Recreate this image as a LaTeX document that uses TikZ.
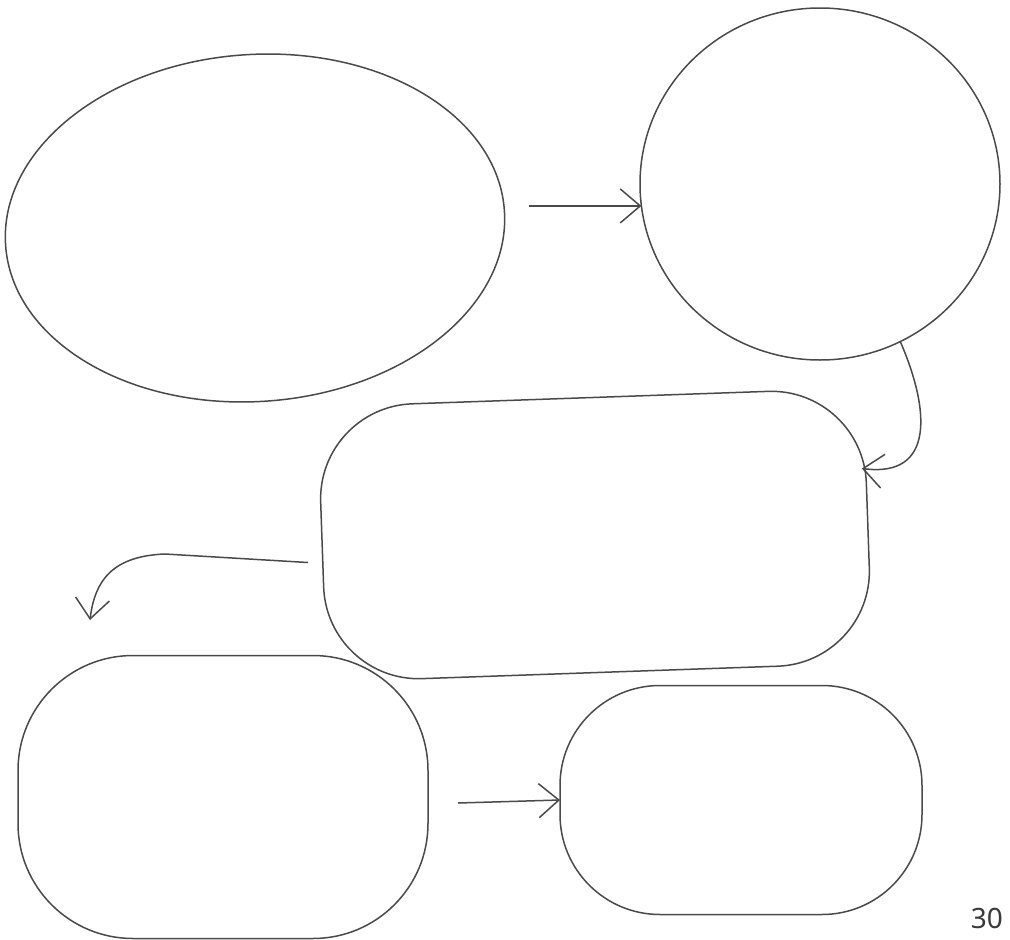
\documentclass[tikz,border=0pt]{standalone}
\usepackage{fontspec}
\setsansfont{Noto Sans}
\usetikzlibrary{arrows.meta,calc,positioning,shapes.geometric}
\definecolor{pencil}{HTML}{4A4A4A}
\definecolor{pagegray}{HTML}{3A3A3A}

\begin{document}
\begin{tikzpicture}[
    x=1pt,y=1pt,
    blob/.style={draw=pencil,line width=1.5pt,inner sep=0pt,outer sep=0pt},
    oval/.style={blob,ellipse},
    pad/.style={blob,rectangle},
    flow/.style={-{Straight Barb[length=20pt,width=34pt,line width=1.5pt]},line width=1.5pt,draw=pencil}
  ]
    \useasboundingbox (0,0) rectangle (1010,-940);
    % blobs
    \node[oval,minimum width=500,minimum height=347,rotate=4] (b1) at (255,-228) {};
    \node[oval,minimum width=360,minimum height=352] (b2) at (820,-184) {};
    \node[pad,minimum width=546,minimum height=275,rounded corners=95,rotate=2] (b3) at (595,-535) {};
    \node[pad,minimum width=410,minimum height=283,rounded corners=115] (b4) at (223,-797) {};
    \node[pad,minimum width=362,minimum height=229,rounded corners=100] (b5) at (741,-800) {};
    % connectors
    \coordinate (a1) at ($(b2.187)+(-112,0)$);
    \coordinate (a2) at ($(b3.east)+(-6,57)$);
    \coordinate (a3) at ($(b3.west)+(-14,-18)$);
    \coordinate (a4) at ($(b4.east)+(30,-6)$);
    \draw[flow] (a1)--(b2.187);
    \draw[flow] (b2.-63) .. controls (930,-410) and (935,-478) .. (a2);
    \draw[flow] (a3) -- (165,-554) .. controls (115,-556) and (95,-578) .. (90,-620);
    \draw[flow] (a4)--(b5.west);
    % page number
    \node[anchor=base east,font=\sffamily\fontsize{28}{28}\selectfont,text=pagegray,inner sep=0pt] (pg) at (1003,-928) {30};
  \end{tikzpicture}
\end{document}
